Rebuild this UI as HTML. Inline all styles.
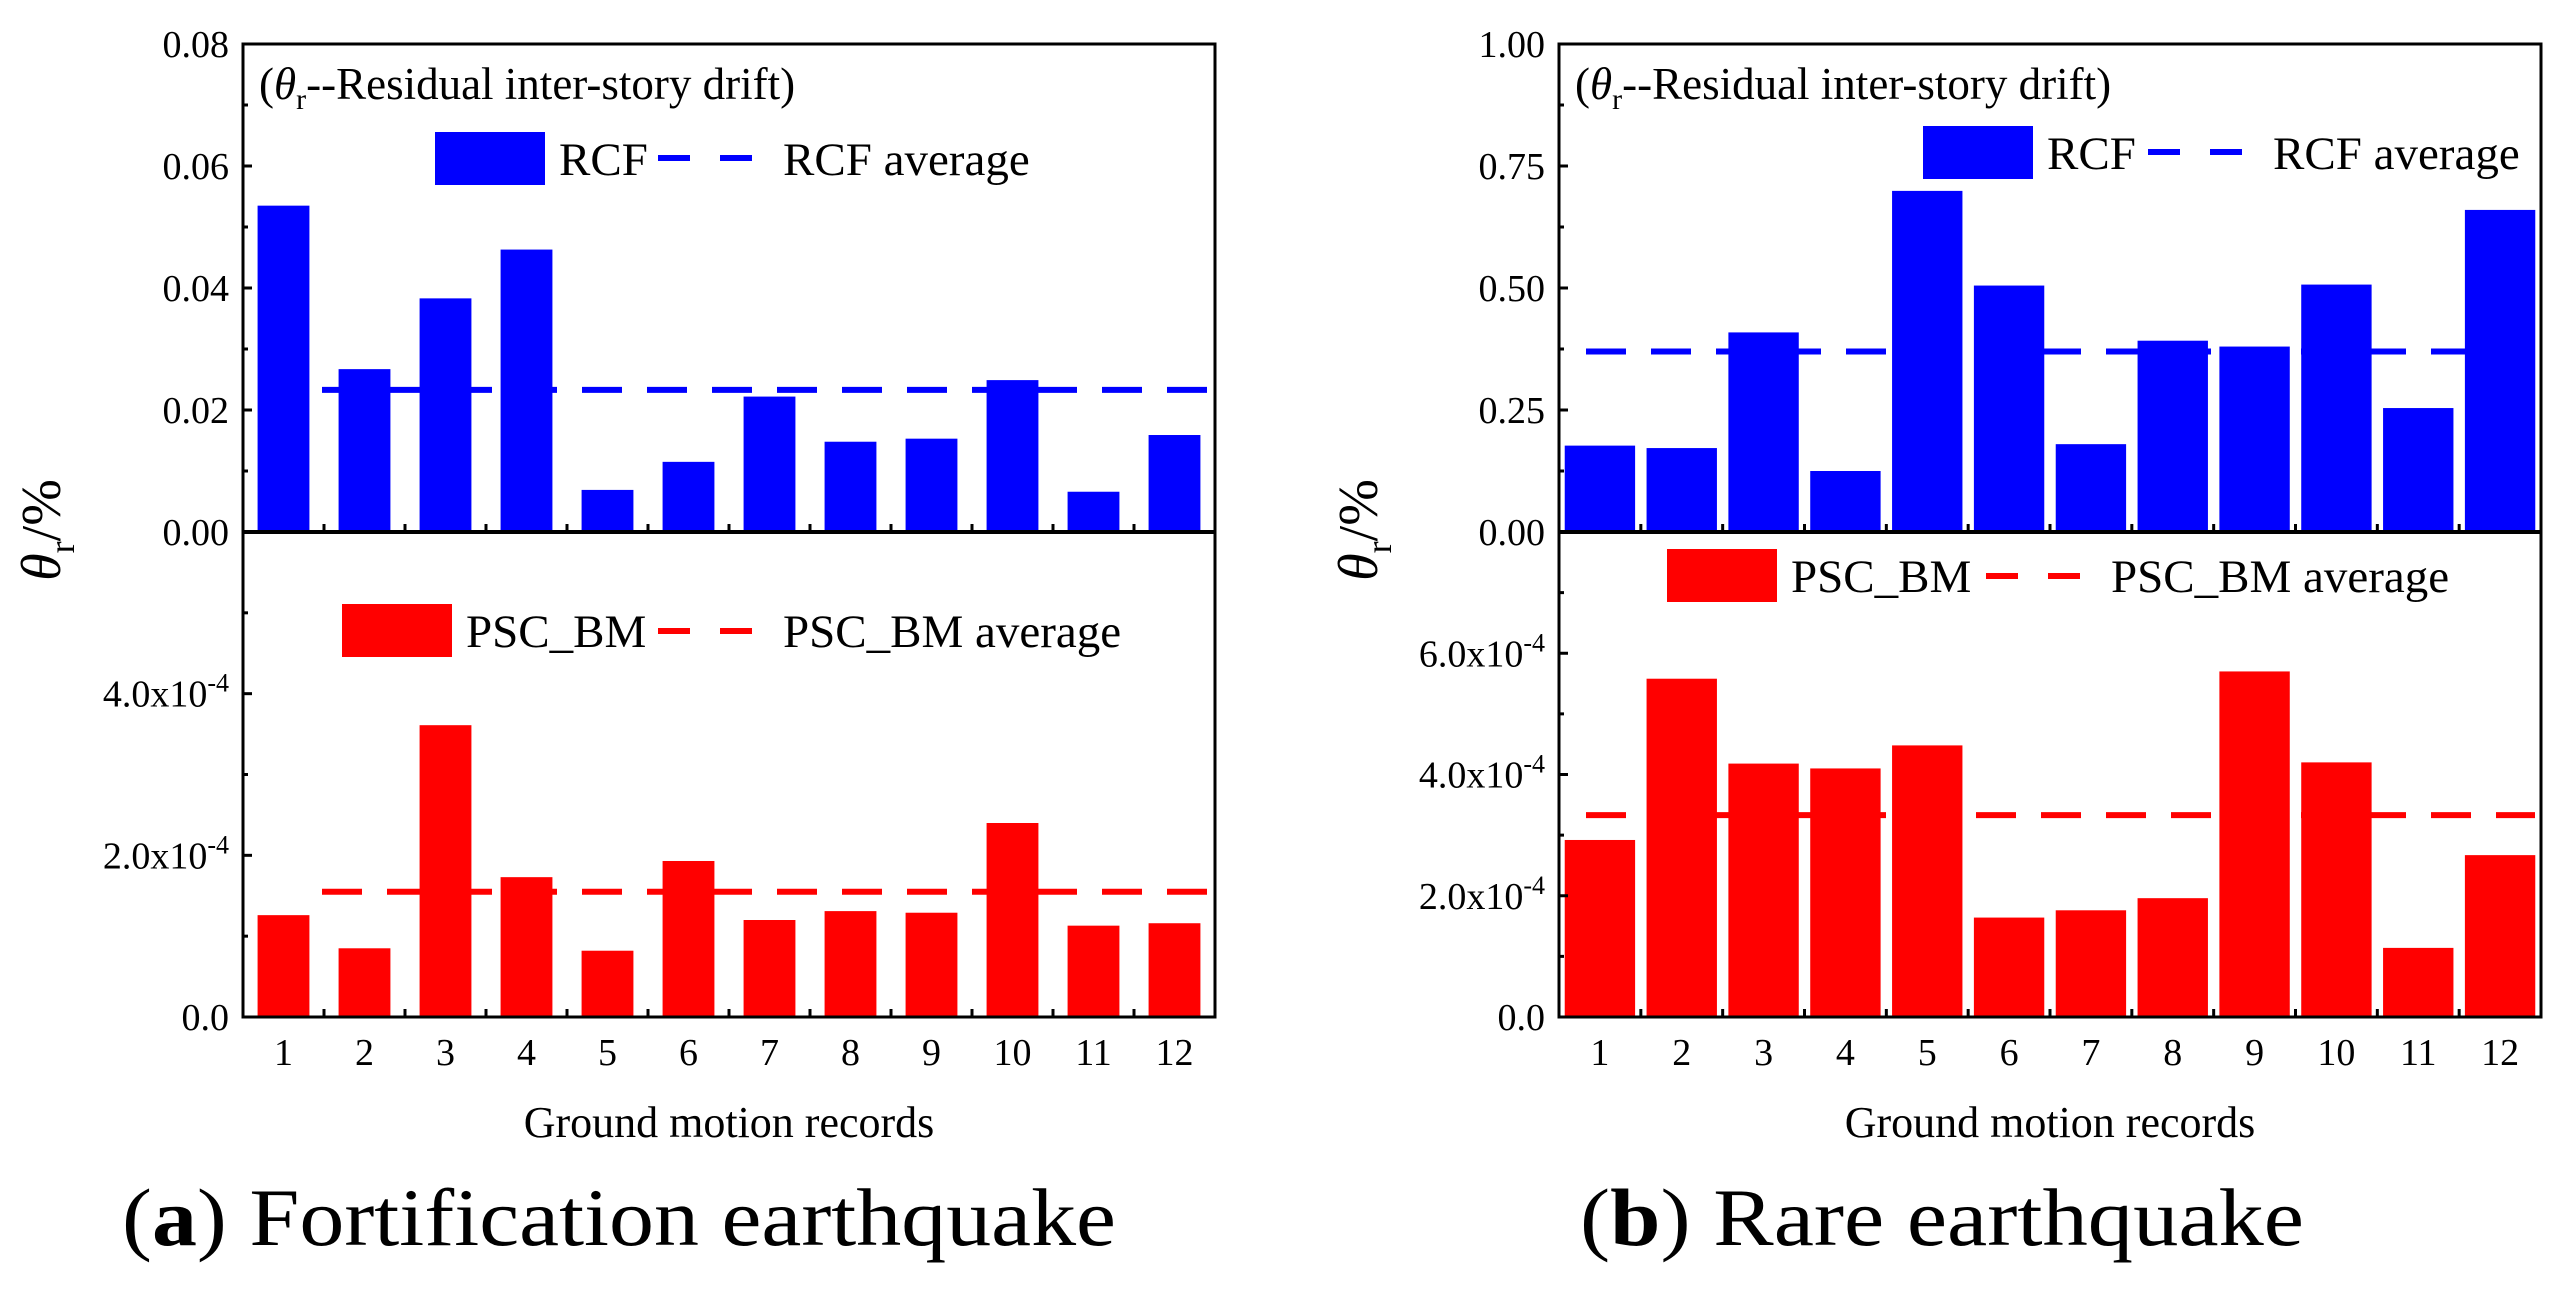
<!DOCTYPE html>
<html><head><meta charset="utf-8"><style>
body{margin:0;background:#fff}
svg{display:block}
svg text{font-family:"Liberation Serif","DejaVu Serif",serif}
</style></head><body>
<svg id="fig" width="2555" height="1291" viewBox="0 0 2555 1291" font-family="Liberation Serif, serif" xmlns="http://www.w3.org/2000/svg"></svg>
<script>
const categories=['1','2','3','4','5','6','7','8','9','10','11','12'];
const rcfA=[0.0535,0.0267,0.0383,0.0463,0.0069,0.0115,0.0222,0.0148,0.0153,0.0249,0.0066,0.0159];
const rcfAvgA=0.0233;
const pscA=[1.26e-4,0.85e-4,3.61e-4,1.73e-4,0.82e-4,1.93e-4,1.2e-4,1.31e-4,1.29e-4,2.4e-4,1.13e-4,1.16e-4];
const pscAvgA=1.55e-4;
const rcfB=[0.177,0.172,0.409,0.125,0.699,0.505,0.18,0.392,0.38,0.507,0.254,0.66];
const rcfAvgB=0.37;
const pscB=[2.92e-4,5.58e-4,4.18e-4,4.1e-4,4.48e-4,1.64e-4,1.76e-4,1.96e-4,5.7e-4,4.2e-4,1.14e-4,2.67e-4];
const pscAvgB=3.33e-4;
const topTicksA=['0.00','0.02','0.04','0.06','0.08'];
const topTicksB=['0.00','0.25','0.50','0.75','1.00'];
const botTicksA=['0.0','2.0x10','4.0x10'];
const botTicksB=['0.0','2.0x10','4.0x10','6.0x10'];

const NS='http://www.w3.org/2000/svg';
const svg=document.getElementById('fig');
function el(tag,attrs,parent,text){const e=document.createElementNS(NS,tag);for(const k in attrs)e.setAttribute(k,attrs[k]);if(tag==='text')e.setAttribute('font-family','Liberation Serif, serif');if(text!==undefined)e.textContent=text;(parent||svg).appendChild(e);return e;}

function panel(o){
  const g=el('g',{},svg);
  
  
  const L=o.left,R=o.right,T=44,M=532,B=1017;
  const cw=(R-L)/categories.length;
  const x=i=>L+cw*(i+0.5);
  const yTop=v=>M-(v/o.topMax)*(M-T);
  const yBot=v=>B-(v/o.botMax)*(B-M);
  categories.forEach((c,i)=>{
    const w=cw*o.bw;
    let r=el('rect',{x:x(i)-w/2,y:yTop(o.rcf[i]),width:w,height:M-yTop(o.rcf[i]),fill:'#0000ff'},g);
    
    
    r=el('rect',{x:x(i)-w/2,y:yBot(o.psc[i]),width:w,height:B-yBot(o.psc[i]),fill:'#ff0000'},g);
    
    
  });
  let l=el('line',{x1:o.avgX1,x2:R-6,y1:yTop(o.rcfAvg),y2:yTop(o.rcfAvg),stroke:'#0000ff','stroke-width':6,'stroke-dasharray':'40 25'},g);
  
  
  l=el('line',{x1:o.avgX1,x2:R-6,y1:yBot(o.pscAvg),y2:yBot(o.pscAvg),stroke:'#ff0000','stroke-width':6,'stroke-dasharray':'40 25'},g);
  
  
  const f=el('rect',{x:L,y:T,width:R-L,height:B-T,fill:'none',stroke:'#000','stroke-width':3},g);
  
  
  el('line',{x1:L,x2:R,y1:M,y2:M,stroke:'#000','stroke-width':4},g);
  categories.forEach((c,i)=>{
    el('line',{x1:L+cw*(i+1),x2:L+cw*(i+1),y1:B,y2:B-8,stroke:'#000','stroke-width':3},g);
    el('line',{x1:L+cw*(i+1),x2:L+cw*(i+1),y1:M,y2:M-8,stroke:'#000','stroke-width':3},g);
    const t=el('text',{x:x(i),y:B+48,'font-size':38,'text-anchor':'middle'},g,c);
    
    
  });
  const nT=o.topTicks.length-1;
  for(let k=0;k<=nT*2;k++){const v=o.topMax*k/(nT*2);const yy=yTop(v);
    el('line',{x1:L,x2:L+(k%2?5:9),y1:yy,y2:yy,stroke:'#000','stroke-width':3},g);}
  o.topTicks.forEach((s,k)=>{const t=el('text',{x:L-14,y:yTop(o.topMax*k/nT)+13,'font-size':38,'text-anchor':'end'},g,s);
    });
  const step=2e-4;
  for(let v=0;v<o.botMax-1e-9;v+=step/2){const yy=yBot(v);
    el('line',{x1:L,x2:L+(Math.round(v/1e-4)%2?5:9),y1:yy,y2:yy,stroke:'#000','stroke-width':3},g);}
  o.botTicks.forEach((s,k)=>{const yy=yBot(k*step);
    const t=el('text',{x:L-14,y:yy+13,'font-size':38,'text-anchor':'end'},g);
    
    el('tspan',{},t,s);
    if(k>0){el('tspan',{dy:-15,'font-size':26},t,'-4');}
  });
  const an=el('text',{x:L+16,y:99,'font-size':45},g);
  
  el('tspan',{},an,'(');el('tspan',{'font-style':'italic'},an,'θ');el('tspan',{dy:10,'font-size':30},an,'r');el('tspan',{dy:-10},an,'--Residual inter-story drift)');
  const lg=o.lg;
  let lr=el('rect',{x:lg.sx,y:lg.sy,width:110,height:53,fill:'#0000ff'},g);
  
  let lt=el('text',{x:lg.sx+124,y:lg.sy+43,'font-size':47},g,'RCF');
  
  el('line',{x1:lg.dx,x2:lg.dx+95,y1:lg.sy+26,y2:lg.sy+26,stroke:'#0000ff','stroke-width':6,'stroke-dasharray':'32 30'},g);
  lt=el('text',{x:lg.dx+125,y:lg.sy+43,'font-size':47},g,'RCF average');
  
  lr=el('rect',{x:lg.px,y:lg.py,width:110,height:53,fill:'#ff0000'},g);
  
  lt=el('text',{x:lg.px+124,y:lg.py+43,'font-size':47},g,'PSC_BM');
  
  el('line',{x1:lg.pdx,x2:lg.pdx+95,y1:lg.py+27,y2:lg.py+27,stroke:'#ff0000','stroke-width':6,'stroke-dasharray':'32 30'},g);
  lt=el('text',{x:lg.pdx+125,y:lg.py+43,'font-size':47},g,'PSC_BM average');
  
  lt=el('text',{x:(L+R)/2,y:1137,'font-size':44,'text-anchor':'middle'},g,'Ground motion records');
  
  const yt=el('text',{x:0,y:0,'font-size':56,'text-anchor':'middle',transform:`translate(${o.ylx},${530}) rotate(-90)`},g);
  
  el('tspan',{'font-style':'italic'},yt,'θ');el('tspan',{dy:14,'font-size':36},yt,'r');el('tspan',{dy:-14},yt,'/%');
  const cp=el('text',{x:o.capX,y:1245,'font-size':82,textLength:o.capW,lengthAdjust:'spacingAndGlyphs'},g);
  
  el('tspan',{},cp,'(');el('tspan',{'font-weight':'bold'},cp,o.capL);el('tspan',{},cp,') '+o.cap);
}
panel({name:'panel-a-fortification',left:243,right:1215,topMax:0.08,botMax:6e-4,bw:0.64,rcf:rcfA,psc:pscA,rcfAvg:rcfAvgA,pscAvg:pscAvgA,avgX1:322,
  topTicks:topTicksA,botTicks:botTicksA,lg:{sx:435,sy:132,dx:658,px:342,py:604,pdx:658},ylx:60,capX:122,capW:994,capL:'a',cap:'Fortification earthquake'});
panel({name:'panel-b-rare',left:1559,right:2541,topMax:1.0,botMax:8e-4,bw:0.86,rcf:rcfB,psc:pscB,rcfAvg:rcfAvgB,pscAvg:pscAvgB,avgX1:1586,
  topTicks:topTicksB,botTicks:botTicksB,lg:{sx:1923,sy:126,dx:2148,px:1667,py:549,pdx:1986},ylx:1377,capX:1580,capW:724,capL:'b',cap:'Rare earthquake'});
</script>
</body></html>
